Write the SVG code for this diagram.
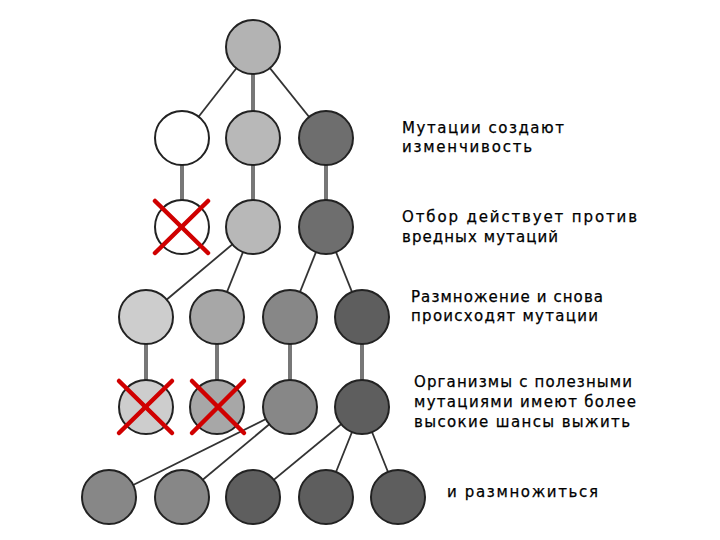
<svg xmlns="http://www.w3.org/2000/svg" width="720" height="540" viewBox="0 0 720 540">
<style>
.n{stroke:#222;stroke-width:2}
.thin{stroke:#333;stroke-width:1.8;fill:none}
.thick{stroke:#777;stroke-width:4;fill:none}
.x{stroke:#d00000;stroke-width:4.5;stroke-linecap:round}
.t{font-family:"DejaVu Sans",sans-serif;font-size:15px;fill:#000;stroke:#000;stroke-width:0.25}
</style>
<rect width="720" height="540" fill="#fff"/>
<g id="connectors">
<line class="thin" x1="253" y1="47" x2="182" y2="138"/>
<line class="thick" x1="253" y1="47" x2="253" y2="138"/>
<line class="thin" x1="253" y1="47" x2="326" y2="138"/>
<line class="thick" x1="182" y1="138" x2="182" y2="227"/>
<line class="thick" x1="253" y1="138" x2="253" y2="227"/>
<line class="thick" x1="326" y1="138" x2="326" y2="227"/>
<line class="thin" x1="253" y1="227" x2="146" y2="317"/>
<line class="thin" x1="253" y1="227" x2="217" y2="317"/>
<line class="thin" x1="326" y1="227" x2="290" y2="317"/>
<line class="thin" x1="326" y1="227" x2="362" y2="317"/>
<line class="thick" x1="146" y1="317" x2="146" y2="407"/>
<line class="thick" x1="217" y1="317" x2="217" y2="407"/>
<line class="thick" x1="290" y1="317" x2="290" y2="407"/>
<line class="thick" x1="362" y1="317" x2="362" y2="407"/>
<line class="thin" x1="290" y1="407" x2="109" y2="497"/>
<line class="thin" x1="290" y1="407" x2="182" y2="497"/>
<line class="thin" x1="362" y1="407" x2="253" y2="497"/>
<line class="thin" x1="362" y1="407" x2="326" y2="497"/>
<line class="thin" x1="362" y1="407" x2="398" y2="497"/>
</g>
<g id="root"><circle class="n" cx="253" cy="47" r="27" fill="#b3b3b3"/></g>
<g id="g1a"><circle class="n" cx="182" cy="138" r="27" fill="#ffffff"/></g>
<g id="g1b"><circle class="n" cx="253" cy="138" r="27" fill="#b8b8b8"/></g>
<g id="g1c"><circle class="n" cx="326" cy="138" r="27" fill="#6e6e6e"/></g>
<g id="g2a"><circle class="n" cx="182" cy="227" r="27" fill="#ffffff"/>
<line class="x" x1="155" y1="201" x2="208" y2="253"/><line class="x" x1="208" y1="201" x2="155" y2="253"/></g>
<g id="g2b"><circle class="n" cx="253" cy="227" r="27" fill="#b8b8b8"/></g>
<g id="g2c"><circle class="n" cx="326" cy="227" r="27" fill="#6e6e6e"/></g>
<g id="g3a"><circle class="n" cx="146" cy="317" r="27" fill="#cdcdcd"/></g>
<g id="g3b"><circle class="n" cx="217" cy="317" r="27" fill="#a7a7a7"/></g>
<g id="g3c"><circle class="n" cx="290" cy="317" r="27" fill="#878787"/></g>
<g id="g3d"><circle class="n" cx="362" cy="317" r="27" fill="#5e5e5e"/></g>
<g id="g4a"><circle class="n" cx="146" cy="407" r="27" fill="#cdcdcd"/>
<line class="x" x1="119" y1="381" x2="172" y2="433"/><line class="x" x1="172" y1="381" x2="119" y2="433"/></g>
<g id="g4b"><circle class="n" cx="217" cy="407" r="27" fill="#a7a7a7"/>
<line class="x" x1="192" y1="381" x2="244" y2="433"/><line class="x" x1="244" y1="381" x2="192" y2="433"/></g>
<g id="g4c"><circle class="n" cx="290" cy="407" r="27" fill="#878787"/></g>
<g id="g4d"><circle class="n" cx="362" cy="407" r="27" fill="#5e5e5e"/></g>
<g id="g5a"><circle class="n" cx="109" cy="497" r="27" fill="#878787"/></g>
<g id="g5b"><circle class="n" cx="182" cy="497" r="27" fill="#878787"/></g>
<g id="g5c"><circle class="n" cx="253" cy="497" r="27" fill="#5e5e5e"/></g>
<g id="g5d"><circle class="n" cx="326" cy="497" r="27" fill="#5e5e5e"/></g>
<g id="g5e"><circle class="n" cx="398" cy="497" r="27" fill="#5e5e5e"/></g>
<g id="labels">
<text class="t" x="402" y="133" textLength="162" lengthAdjust="spacing">Мутации создают</text>
<text class="t" x="402" y="152" textLength="130" lengthAdjust="spacing">изменчивость</text>
<text class="t" x="402" y="222" textLength="235" lengthAdjust="spacing">Отбор действует против</text>
<text class="t" x="402" y="242" textLength="156" lengthAdjust="spacing">вредных мутаций</text>
<text class="t" x="411" y="302" textLength="192" lengthAdjust="spacing">Размножение и снова</text>
<text class="t" x="411" y="321" textLength="187" lengthAdjust="spacing">происходят мутации</text>
<text class="t" x="414" y="387" textLength="218" lengthAdjust="spacing">Организмы с полезными</text>
<text class="t" x="414" y="407" textLength="222" lengthAdjust="spacing">мутациями имеют более</text>
<text class="t" x="414" y="427" textLength="216" lengthAdjust="spacing">высокие шансы выжить</text>
<text class="t" x="447" y="497" textLength="151" lengthAdjust="spacing">и размножиться</text>
</g>
</svg>
